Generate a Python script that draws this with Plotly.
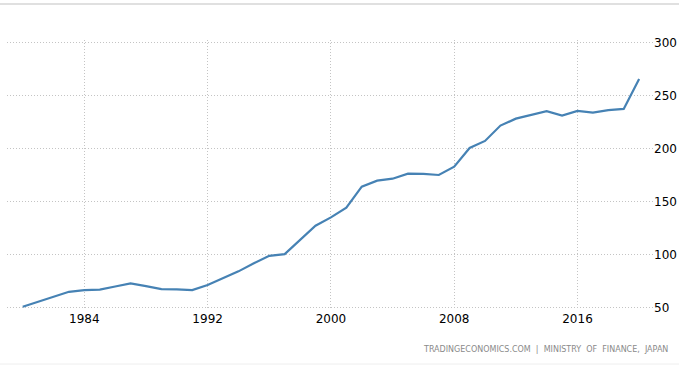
import plotly.graph_objects as go

years = list(range(1980, 2021))
debt_to_gdp = [50.9, 55.6, 60.0, 65.0, 66.6, 67.0, 70.0, 73.0, 70.4, 67.6,
               67.3, 66.6, 71.4, 77.5, 84.3, 92.0, 99.0, 100.6, 113.6, 127.4,
               135.3, 144.4, 164.3, 170.0, 171.8, 176.6, 176.3, 175.3, 183.2, 200.8,
               207.5, 222.0, 228.5, 232.0, 235.5, 231.4, 235.8, 234.2, 236.5, 237.7,
               266.0]
x_ticks = [1984, 1992, 2000, 2008, 2016]
y_ticks = [50, 100, 150, 200, 250, 300]
source_text = "TRADINGECONOMICS.COM  |  MINISTRY  OF  FINANCE,  JAPAN"

fig = go.Figure()
fig.add_trace(go.Scatter(
    x=years, y=debt_to_gdp, mode="lines",
    line=dict(color="#4682b4", width=2.2),
    hoverinfo="x+y",
))

fig.update_layout(
    width=679, height=365,
    margin=dict(l=7, r=26, t=40, b=55, autoexpand=False),
    paper_bgcolor="white", plot_bgcolor="white",
    showlegend=False,
    font=dict(family="DejaVu Sans, Arial", size=12, color="#000000"),
    xaxis=dict(
        range=[1978.98, 2020.9],
        tickvals=x_ticks, ticktext=[str(t) for t in x_ticks],
        showgrid=True, gridcolor="#c4c4c4", griddash="1px,2px", gridwidth=1,
        zeroline=False, showline=False, ticks="", ticklen=0,
        tickfont=dict(size=12, color="#000000"),
    ),
    yaxis=dict(
        range=[47.8, 302.8], side="right",
        tickvals=y_ticks, ticktext=[str(t) for t in y_ticks],
        showgrid=True, gridcolor="#c4c4c4", griddash="1px,2px", gridwidth=1,
        zeroline=False, showline=False, ticks="", ticklen=0,
        tickfont=dict(size=12, color="#000000"),
    ),
    shapes=[
        dict(type="line", xref="paper", yref="paper", x0=-0.02, x1=1.05,
             y0=1.1333, y1=1.1333, line=dict(color="#e0e0e0", width=2)),
        dict(type="line", xref="paper", yref="paper", x0=-0.02, x1=1.05,
             y0=-0.2, y1=-0.2, line=dict(color="#eeeeee", width=1)),
    ],
    annotations=[
        dict(text=source_text, xref="paper", yref="paper",
             x=1.0263, y=-0.145, xanchor="right", yanchor="middle",
             showarrow=False,
             font=dict(family="DejaVu Sans", size=8, color="#8a8a8a")),
    ],
)

fig.write_html("out.html", config={"displayModeBar": False},
               post_script="document.body.style.margin='0';document.body.style.padding='0';")
